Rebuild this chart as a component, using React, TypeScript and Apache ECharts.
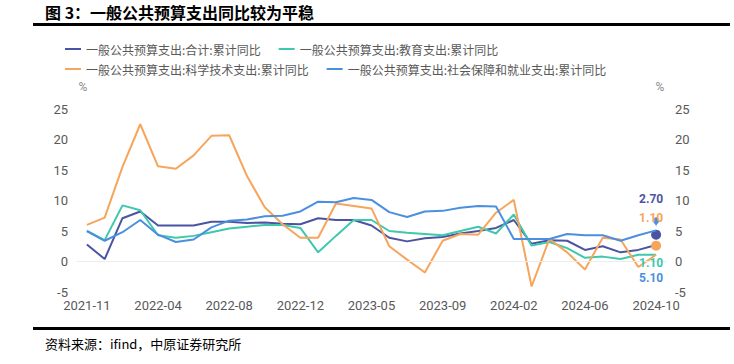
import React, { useEffect, useRef } from "react";
import * as echarts from "echarts";

const categories = [
  "2021-11", "2021-12",
  "2022-02", "2022-03", "2022-04", "2022-05", "2022-06", "2022-07", "2022-08", "2022-09", "2022-10", "2022-11", "2022-12",
  "2023-02", "2023-03", "2023-04", "2023-05", "2023-06", "2023-07", "2023-08", "2023-09", "2023-10", "2023-11", "2023-12",
  "2024-02", "2024-03", "2024-04", "2024-05", "2024-06", "2024-07", "2024-08", "2024-09", "2024-10",
];

const seriesNames = [
  "一般公共预算支出:合计:累计同比",
  "一般公共预算支出:教育支出:累计同比",
  "一般公共预算支出:科学技术支出:累计同比",
  "一般公共预算支出:社会保障和就业支出:累计同比",
];

const totalYoY = [2.8, 0.4, 7.1, 8.2, 5.9, 5.9, 5.9, 6.5, 6.5, 6.3, 6.4, 6.2, 6.1, 7.1, 6.8, 6.8, 5.9, 3.9, 3.3, 3.8, 4.0, 4.6, 5.0, 5.5, 6.8, 2.9, 3.5, 3.4, 1.9, 2.5, 1.5, 1.9, 2.7];
const eduYoY = [5.0, 3.5, 9.2, 8.4, 4.3, 3.9, 4.2, 4.8, 5.4, 5.7, 6.0, 6.0, 5.5, 1.5, 4.2, 6.8, 6.8, 5.0, 4.7, 4.5, 4.3, 5.0, 5.7, 4.6, 7.7, 2.6, 3.2, 2.2, 0.6, 0.8, 0.4, 1.1, 1.1];
const sciTechYoY = [6.0, 7.2, 15.5, 22.5, 15.6, 15.2, 17.4, 20.6, 20.7, 14.0, 8.9, 6.1, 3.9, 3.9, 9.5, 9.1, 8.7, 2.5, 0.3, -1.8, 3.4, 4.5, 4.4, 8.0, 10.1, -4.1, 3.7, 1.5, -1.3, 3.9, 3.6, -0.9, 1.1];
const socialYoY = [5.0, 3.4, 4.8, 6.8, 4.4, 3.2, 3.6, 5.6, 6.7, 6.9, 7.4, 7.5, 8.2, 9.8, 9.7, 10.4, 10.1, 8.1, 7.3, 8.2, 8.3, 8.8, 9.1, 9.0, 3.7, 3.7, 3.7, 4.5, 4.3, 4.3, 3.4, 4.3, 5.1];

const seriesValues = [totalYoY, eduYoY, sciTechYoY, socialYoY];
const seriesColors = ["#4b54a3", "#3ec8ac", "#f6a55b", "#4a8fe0"];

// end-of-series annotation placement (in axis values)
const endLabelAt = [10.2, -0.2, 7.1, -2.7];
const endMarkerAt = [4.4, null, 2.6, 5.7];
const endMarkerSymbol = ["circle", null, "circle", "pin"];
const endMarkerSize = [10, 0, 10, 11];

const yMin = -5;
const yMax = 25;
const yInterval = 5;

const FONT = '"Noto Sans CJK SC", "Noto Sans", sans-serif';
const NUM_FONT = 'Roboto, "Liberation Sans", sans-serif';

export default function App() {
  const ref = useRef<HTMLDivElement>(null);

  useEffect(() => {
    if (!ref.current) return;
    const chart = echarts.init(ref.current, undefined, { renderer: "svg" });
    const last = categories[categories.length - 1];

    const series = seriesNames.map((name, i) => {
      const mpData: any[] = [
        {
          coord: [last, endLabelAt[i]],
          symbol: "circle",
          symbolSize: 0,
          label: {
            show: true,
            formatter: seriesValues[i][seriesValues[i].length - 1].toFixed(2),
            color: seriesColors[i],
            fontWeight: "bold",
            fontSize: 12,
            fontFamily: NUM_FONT,
            offset: [-5, 0],
          },
        },
      ];
      if (endMarkerAt[i] !== null) {
        mpData.push({
          coord: [last, endMarkerAt[i]],
          symbol: endMarkerSymbol[i],
          symbolSize: endMarkerSize[i],
          itemStyle: { color: seriesColors[i] },
          label: { show: false },
        });
      }
      const s: any = {
        name,
        type: "line",
        data: seriesValues[i],
        symbol: "none",
        lineStyle: { width: 2, color: seriesColors[i] },
        itemStyle: { color: seriesColors[i] },
        markPoint: { silent: true, data: mpData },
        z: 2 + i,
      };
      if (i === 0) {
        s.markLine = {
          silent: true,
          symbol: "none",
          label: { show: false },
          lineStyle: { color: "#ececec", type: "solid", width: 1 },
          data: [{ yAxis: 0 }],
        };
      }
      return s;
    });

    const legendCommon = {
      left: 60,
      icon: "rect",
      itemWidth: 16,
      itemHeight: 2,
      itemGap: 18,
      textStyle: { color: "#595959", fontSize: 12, fontFamily: FONT },
    };

    const yAxisCommon = {
      type: "value",
      min: yMin,
      max: yMax,
      interval: yInterval,
      name: "%",
      nameLocation: "end",
      nameGap: 16,
      axisLine: { show: false },
      axisTick: { show: false },
      splitLine: { show: false },
      axisLabel: { color: "#595959", fontSize: 13, padding: [0, 0, 4, 0], margin: 10, fontFamily: NUM_FONT },
    };

    chart.setOption({
      animation: false,
      backgroundColor: "#ffffff",
      textStyle: { fontFamily: FONT },
      grid: { left: 78, right: 69, top: 109, bottom: 72, containLabel: false },
      legend: [
        { ...legendCommon, top: 38, data: [seriesNames[0], seriesNames[1]] },
        { ...legendCommon, top: 58, data: [seriesNames[2], seriesNames[3]] },
      ],
      xAxis: {
        type: "category",
        data: categories,
        boundaryGap: true,
        axisLine: { lineStyle: { color: "#a8b2d8", width: 1 } },
        axisTick: { show: false },
        axisLabel: { interval: 3, color: "#595959", fontSize: 13, margin: 7, fontFamily: NUM_FONT },
      },
      yAxis: [
        { ...yAxisCommon, position: "left", nameTextStyle: { color: "#8c8c8c", fontSize: 12, fontFamily: NUM_FONT, padding: [0, 0, 0, 10] } },
        { ...yAxisCommon, position: "right", nameTextStyle: { color: "#8c8c8c", fontSize: 12, fontFamily: NUM_FONT, padding: [0, 10, 0, 0] } },
      ],
      series,
      graphic: [
        {
          type: "text",
          left: 45,
          top: 4,
          style: { text: "图 3：一般公共预算支出同比较为平稳", font: `bold 16px ${FONT}`, fill: "#000000" },
        },
        { type: "rect", shape: { x: 33, y: 23, width: 697, height: 3 }, style: { fill: "#000000" } },
        { type: "rect", shape: { x: 33, y: 327, width: 697, height: 3 }, style: { fill: "#000000" } },
        {
          type: "text",
          left: 45,
          top: 337,
          style: { text: "资料来源：ifind，中原证券研究所", font: `13px ${FONT}`, fill: "#000000" },
        },
      ],
    });

    return () => chart.dispose();
  }, []);

  return <div ref={ref} style={{ position: "fixed", left: 0, top: 0, width: 734, height: 364 }} />;
}
